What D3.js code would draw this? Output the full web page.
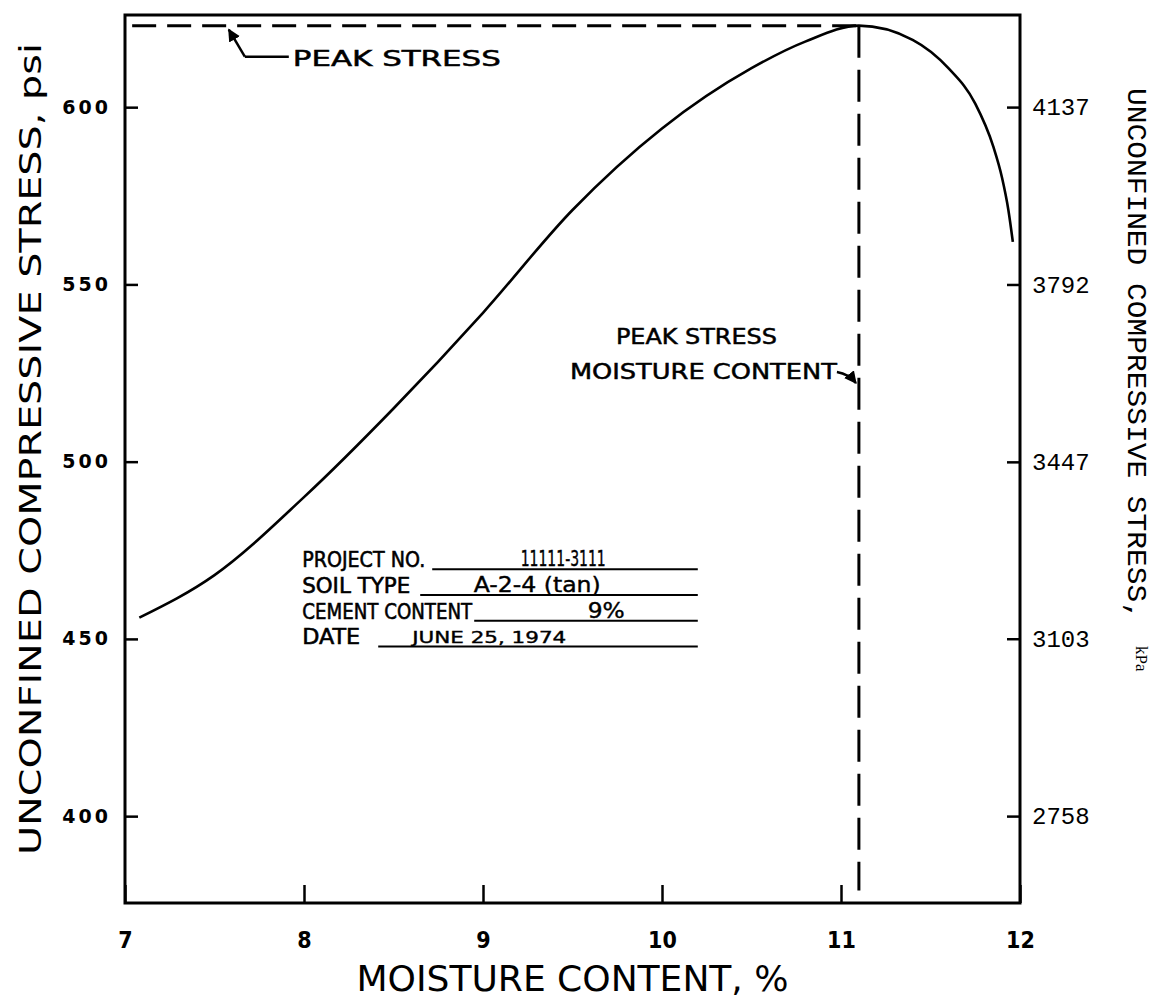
<!DOCTYPE html>
<html>
<head>
<meta charset="utf-8">
<script src="https://cdn.jsdelivr.net/npm/d3@7"></script>
<style>
    body { margin: 0; background: #fff; }
</style>
</head>
<body>
<div id="chart"></div>
<script>
// curve: moisture content (%) vs unconfined compressive stress (psi)
const moisture = [7.08, 7.5, 8.0, 8.5, 9.0, 9.5, 10.0, 10.5, 10.8, 11.1, 11.4, 11.6, 11.75, 11.85, 11.9, 11.935, 11.96];
const stress = [456, 468, 490, 515, 542, 571, 594, 611, 618.5, 623, 619, 611, 601, 589, 580, 571, 562];

const xTicks = [7, 8, 9, 10, 11, 12];
const psiTicks = [400, 450, 500, 550, 600];
const kpaTicks = [2758, 3103, 3447, 3792, 4137];
const PSI_TO_KPA = 6.894757;

const peakMoisture = 11.1;
const peakStress = 623;

const infoLabels = ["PROJECT NO.", "SOIL TYPE", "CEMENT CONTENT", "DATE"];
const infoValues = ["11111-3111", "A-2-4 (tan)", "9%", "JUNE 25, 1974"];

class StressChart {

    constructor(parentElement) {
        this.parentElement = parentElement;
        this.data = moisture.map((m, i) => ({moisture: m, stress: stress[i]}));
        this.initVis();
    }

    initVis() {
        let vis = this;

        vis.margin = {top: 15, right: 139, bottom: 97, left: 125};
        vis.width = 1159 - vis.margin.left - vis.margin.right;
        vis.height = 1000 - vis.margin.top - vis.margin.bottom;

        vis.root = d3.select("#" + vis.parentElement).append("svg")
            .attr("width", 1159)
            .attr("height", 1000);

        vis.root.append("defs").append("marker")
            .attr("id", "arrow")
            .attr("viewBox", "0 0 10 10")
            .attr("refX", 9).attr("refY", 5)
            .attr("markerWidth", 5).attr("markerHeight", 5)
            .attr("markerUnits", "strokeWidth")
            .attr("orient", "auto-start-reverse")
            .append("path")
            .attr("d", "M0,0 L10,5 L0,10 z")
            .attr("fill", "#000");

        vis.svg = vis.root.append("g")
            .attr("transform", "translate(" + vis.margin.left + "," + vis.margin.top + ")");

        vis.x = d3.scaleLinear().domain([7, 12]).range([0, vis.width]);
        vis.y = d3.scaleLinear().domain([375.5, 626]).range([vis.height, 0]);
        vis.yKpa = d3.scaleLinear()
            .domain(vis.y.domain().map(d => d * PSI_TO_KPA))
            .range([vis.height, 0]);

        this.updateVis();
    }

    updateVis() {
        let vis = this;

        // axes, ticks point inward
        let xAxis = vis.svg.append("g")
            .attr("transform", "translate(0," + vis.height + ")")
            .call(d3.axisBottom(vis.x).tickValues(xTicks).tickFormat(d3.format("d"))
                .tickSizeInner(-18).tickSizeOuter(0).tickPadding(29));
        xAxis.selectAll("text")
            .attr("font-family", "DejaVu Sans Condensed")
            .attr("font-weight", "bold")
            .attr("font-size", 23);

        let yAxis = vis.svg.append("g")
            .call(d3.axisLeft(vis.y).tickValues(psiTicks).tickFormat(d3.format("d"))
                .tickSizeInner(-13).tickSizeOuter(0).tickPadding(14));
        yAxis.selectAll("text")
            .attr("font-family", "DejaVu Sans")
            .attr("font-weight", "bold")
            .attr("font-size", 19)
            .attr("letter-spacing", 3);

        let kpaAxis = vis.svg.append("g")
            .attr("transform", "translate(" + vis.width + ",0)")
            .call(d3.axisRight(vis.yKpa).tickValues(kpaTicks).tickFormat(d3.format("d"))
                .tickSizeInner(-13).tickSizeOuter(0).tickPadding(12));
        kpaAxis.selectAll("text")
            .attr("font-family", "Liberation Mono")
            .attr("font-size", 24);

        vis.svg.selectAll(".domain").remove();
        vis.svg.selectAll(".tick line").attr("stroke", "#000").attr("stroke-width", 2.5);

        // plot frame
        vis.svg.append("rect")
            .attr("width", vis.width)
            .attr("height", vis.height)
            .attr("fill", "none")
            .attr("stroke", "#000")
            .attr("stroke-width", 3);

        // axis titles
        vis.svg.append("text")
            .attr("transform", "translate(-95," + (vis.height / 2 - 10) + ") rotate(-90)")
            .attr("text-anchor", "middle")
            .attr("dominant-baseline", "central")
            .attr("font-family", "DejaVu Sans Condensed")
            .attr("font-size", 31)
            .attr("textLength", 812)
            .attr("lengthAdjust", "spacingAndGlyphs")
            .text("UNCONFINED COMPRESSIVE STRESS, psi");

        vis.svg.append("text")
            .attr("x", (vis.x(7) + vis.x(12)) / 2)
            .attr("y", vis.height + 88)
            .attr("text-anchor", "middle")
            .attr("font-family", "DejaVu Sans Condensed")
            .attr("font-size", 36)
            .attr("textLength", 432)
            .attr("lengthAdjust", "spacingAndGlyphs")
            .text("MOISTURE CONTENT, %");

        let rightTitle = vis.svg.append("g")
            .attr("transform", "translate(" + (vis.width + 115) + ",73) rotate(90)");
        rightTitle.append("text")
            .attr("dominant-baseline", "central")
            .attr("font-family", "Liberation Mono")
            .attr("font-size", 28)
            .attr("textLength", 532)
            .attr("lengthAdjust", "spacingAndGlyphs")
            .text("UNCONFINED COMPRESSIVE STRESS,");
        rightTitle.append("text")
            .attr("x", 558)
            .attr("y", -6)
            .attr("dominant-baseline", "central")
            .attr("font-family", "Liberation Serif")
            .attr("font-size", 17)
            .text("kPa");

        // peak stress guides
        vis.svg.append("line")
            .attr("x1", vis.x(7.04)).attr("x2", vis.x(peakMoisture))
            .attr("y1", vis.y(peakStress)).attr("y2", vis.y(peakStress))
            .attr("stroke", "#000").attr("stroke-width", 3)
            .attr("stroke-dasharray", "24,11");

        vis.svg.append("line")
            .attr("x1", vis.x(peakMoisture)).attr("x2", vis.x(peakMoisture))
            .attr("y1", vis.y(peakStress)).attr("y2", vis.y(379))
            .attr("stroke", "#000").attr("stroke-width", 3)
            .attr("stroke-dasharray", "32,12");

        // the curve
        let line = d3.line()
            .x(d => vis.x(d.moisture))
            .y(d => vis.y(d.stress))
            .curve(d3.curveMonotoneX);

        vis.svg.append("path")
            .datum(vis.data)
            .attr("d", line)
            .attr("fill", "none")
            .attr("stroke", "#000")
            .attr("stroke-width", 2.6);

        // annotations
        let annoFont = {family: "DejaVu Sans", size: 21};

        let tipX = vis.x(7.58), tipY = vis.y(peakStress) + 4;
        vis.svg.append("path")
            .attr("d", "M" + (tipX + 16) + "," + (tipY + 27) + " L" + (tipX + 60) + "," + (tipY + 27))
            .attr("fill", "none").attr("stroke", "#000").attr("stroke-width", 2.5);
        vis.svg.append("path")
            .attr("d", "M" + (tipX + 16) + "," + (tipY + 27) + " L" + tipX + "," + tipY)
            .attr("fill", "none").attr("stroke", "#000").attr("stroke-width", 2.5)
            .attr("marker-end", "url(#arrow)");

        let annos = vis.svg.append("g")
            .attr("font-family", annoFont.family)
            .attr("font-size", annoFont.size)
            .attr("stroke", "#000")
            .attr("stroke-width", 0.5);
        annos.append("text")
            .attr("x", tipX + 64)
            .attr("y", tipY + 36)
            .attr("textLength", 208)
            .attr("lengthAdjust", "spacingAndGlyphs")
            .text("PEAK STRESS");

        let pmX = vis.x(peakMoisture);
        annos.append("text")
            .attr("x", pmX - 243)
            .attr("y", 329)
            .attr("textLength", 161)
            .attr("lengthAdjust", "spacingAndGlyphs")
            .text("PEAK STRESS");
        annos.append("text")
            .attr("x", pmX - 289)
            .attr("y", 364)
            .attr("textLength", 267)
            .attr("lengthAdjust", "spacingAndGlyphs")
            .text("MOISTURE CONTENT");
        vis.svg.append("path")
            .attr("d", "M" + (pmX - 22) + "," + 357 + " Q" + (pmX - 10) + ",359 " + (pmX - 3) + ",368")
            .attr("fill", "none").attr("stroke", "#000").attr("stroke-width", 2.5)
            .attr("marker-end", "url(#arrow)");

        // project info block
        let bx = vis.x(7.99), by = vis.y(470.2), endX = vis.x(10.2);
        let rowGap = 25.7;
        let labelLen = [123, 108, 170, 58];
        let lineStart = [130, 118, 172, 76];
        let valueMid = [261, 235, 304, 187];
        let valueLen = [85, 127, 37, 154];

        let block = vis.svg.append("g")
            .attr("font-family", "DejaVu Sans")
            .attr("stroke", "#000");
        infoLabels.forEach(function(d, i) {
            let yy = by + i * rowGap;
            block.append("text")
                .attr("x", bx).attr("y", yy)
                .attr("font-size", 21)
                .attr("stroke-width", 0.6)
                .attr("textLength", labelLen[i])
                .attr("lengthAdjust", "spacingAndGlyphs")
                .text(d);
            block.append("line")
                .attr("x1", bx + lineStart[i]).attr("x2", endX)
                .attr("y1", yy + 2).attr("y2", yy + 2)
                .attr("stroke-width", 2);
            block.append("text")
                .attr("x", bx + valueMid[i]).attr("y", yy - 1)
                .attr("text-anchor", "middle")
                .attr("font-size", i === 3 ? 16 : 21)
                .attr("stroke-width", 0.4)
                .attr("textLength", valueLen[i])
                .attr("lengthAdjust", "spacingAndGlyphs")
                .text(infoValues[i]);
        });
    }
}

new StressChart("chart");
</script>
</body>
</html>
